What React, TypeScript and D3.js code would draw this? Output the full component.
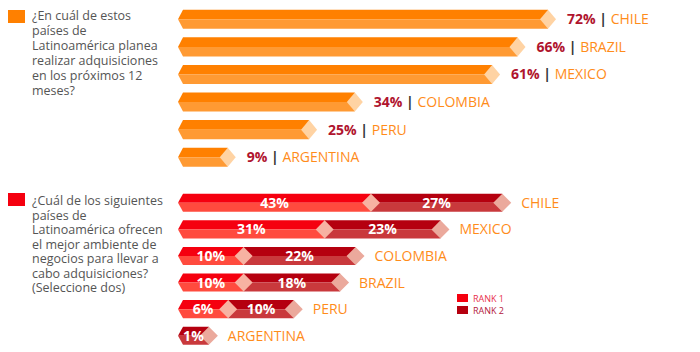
import * as d3 from 'd3';

const planCountries = ['CHILE', 'BRAZIL', 'MEXICO', 'COLOMBIA', 'PERU', 'ARGENTINA'];
const planValues = [72, 66, 61, 34, 25, 9];

const envCountries = ['CHILE', 'MEXICO', 'COLOMBIA', 'BRAZIL', 'PERU', 'ARGENTINA'];
const rank1Values = [43, 31, 10, 10, 6, 0];
const rank2Values = [27, 23, 22, 18, 10, 1];

const question1 = [
  '¿En cuál de estos',
  'países de',
  'Latinoamérica planea',
  'realizar adquisiciones',
  'en los próximos 12',
  'meses?',
];
const question2 = [
  '¿Cuál de los siguientes',
  'países de',
  'Latinoamérica ofrecen',
  'el mejor ambiente de',
  'negocios para llevar a',
  'cabo adquisiciones?',
  '(Seleccione dos)',
];
const legendLabels = ['RANK 1', 'RANK 2'];

const FONT = '"Open Sans", "Noto Sans", sans-serif';
const X0 = 178; // left tip of every bar
const NOTCH = 5;

// two-tone body of a bar segment, optional chevron on the left
function Segment({ x1, x2, cy, h, top, bottom, chevron }: any) {
  const t = cy - h / 2;
  const b = cy + h / 2;
  const lx = chevron ? x1 + NOTCH : x1;
  const upper = `M${x1},${cy} L${lx},${t} L${x2},${t} L${x2},${cy} Z`;
  const lower = `M${x1},${cy} L${lx},${b} L${x2},${b} L${x2},${cy} Z`;
  return (
    <g>
      <path d={upper} fill={top} />
      <path d={lower} fill={bottom} />
    </g>
  );
}

function Diamond({ cx, cy, h, w, fill }: any) {
  return (
    <path
      d={`M${cx - w},${cy} L${cx},${cy - h / 2} L${cx + w},${cy} L${cx},${cy + h / 2} Z`}
      fill={fill}
    />
  );
}

export default function App() {
  const width = 700;
  const height = 352;

  // top block
  const yTop = d3.scaleBand<string>()
    .domain(planCountries)
    .range([5.5, 171])
    .paddingInner(0.31)
    .paddingOuter(0.155);
  const xTop = d3.scaleLinear().domain([0, 72]).range([190, 556]);
  const hTop = yTop.bandwidth();
  const dwTop = 8;

  // bottom block
  const yBot = d3.scaleBand<string>()
    .domain(envCountries)
    .range([189.5, 349])
    .paddingInner(0.32)
    .paddingOuter(0.16);
  const segW = d3.scaleLinear().domain([0, 43]).range([27, 193]);
  const hBot = yBot.bandwidth();
  const dwBot = 9;

  return (
    <svg width={width} height={height} style={{ position: 'absolute', left: 0, top: 0 }} fontFamily={FONT}>
      <rect width={width} height={height} fill="#fff" />

      {/* question 1 */}
      <rect x={8} y={10} width={17} height={13} fill="#FF8000" />
      <text x={32} fill="#555" fontSize={12.5}>
        {question1.map((l, i) => (
          <tspan key={i} x={32} y={20 + i * 15}>{l}</tspan>
        ))}
      </text>

      {planCountries.map((c, i) => {
        const cy = (yTop(c) as number) + hTop / 2;
        const tip = xTop(planValues[i]);
        const xc = tip - dwTop;
        return (
          <g key={c}>
            <Segment x1={X0} x2={xc} cy={cy} h={hTop} top="#FF8000" bottom="#FF9A33" chevron />
            <Diamond cx={xc} cy={cy} h={hTop} w={dwTop} fill="#FFD3A3" />
            <text x={tip + 11} y={cy + 5} fontSize={14}>
              <tspan fontWeight="bold" fill="#B0142E">{planValues[i]}%</tspan>
              <tspan fontWeight="bold" fill="#333"> | </tspan>
              <tspan fill="#FF8C1A">{c}</tspan>
            </text>
          </g>
        );
      })}

      {/* question 2 */}
      <rect x={8} y={193} width={17} height={13} fill="#F5000F" />
      <text x={32} fill="#555" fontSize={12.5}>
        {question2.map((l, i) => (
          <tspan key={i} x={32} y={205 + i * 14.5}>{l}</tspan>
        ))}
      </text>

      {envCountries.map((c, i) => {
        const cy = (yBot(c) as number) + hBot / 2;
        const r1 = rank1Values[i];
        const r2 = rank2Values[i];
        const j = r1 > 0 ? X0 + segW(r1) : X0;
        const end = r2 > 0 ? j + segW(r2) : j;
        const tip = end + dwBot;
        return (
          <g key={c}>
            {r2 > 0 && (
              <Segment x1={j} x2={end} cy={cy} h={hBot} top="#B5000F" bottom="#C9393C" chevron={r1 === 0} />
            )}
            {r1 > 0 && (
              <Segment x1={X0} x2={j} cy={cy} h={hBot} top="#F5000F" bottom="#FF4B3E" chevron />
            )}
            {r1 > 0 && r2 > 0 && <Diamond cx={j} cy={cy} h={hBot} w={dwBot} fill="#F7B2A2" />}
            <Diamond cx={end} cy={cy} h={hBot} w={dwBot} fill="#EBA99C" />
            {r1 > 0 && (
              <text x={(X0 + NOTCH + j - dwBot) / 2 + 2} y={cy + 5} fontSize={14} fontWeight="bold" fill="#fff" textAnchor="middle">
                {r1}%
              </text>
            )}
            {r2 > 0 && (
              <text
                x={r1 > 0 ? (j + dwBot + end - dwBot) / 2 : (X0 + NOTCH + end - dwBot) / 2 + 2}
                y={cy + 5}
                fontSize={14}
                fontWeight="bold"
                fill="#fff"
                textAnchor="middle"
              >
                {r2}%
              </text>
            )}
            <text x={tip + 10} y={cy + 5} fontSize={14} fill="#FF8C1A">{c}</text>
          </g>
        );
      })}

      {/* legend */}
      {legendLabels.map((l, i) => (
        <g key={l} transform={`translate(457,${294 + i * 12})`}>
          <rect width={11} height={8} fill={i === 0 ? '#F5000F' : '#B5000F'} />
          <text x={16} y={7.5} fontSize={9} fill={i === 0 ? '#E8304A' : '#B4203C'}>{l}</text>
        </g>
      ))}
    </svg>
  );
}
